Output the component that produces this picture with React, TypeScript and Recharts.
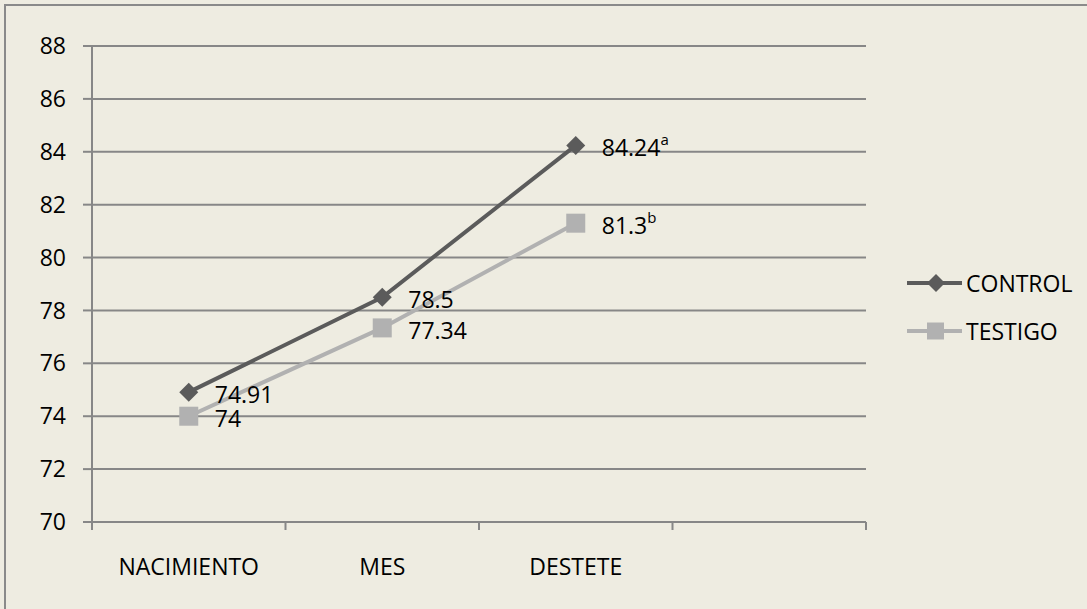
import React from "react";
import { LineChart, Line, XAxis, YAxis, CartesianGrid, LabelList } from "recharts";

const categories = ["NACIMIENTO", "MES", "DESTETE"];
const controlValues = [74.91, 78.5, 84.24];
const testigoValues = [74, 77.34, 81.3];
const controlSup = ["", "", "a"];
const testigoSup = ["", "", "b"];
const yTicks = [70, 72, 74, 76, 78, 80, 82, 84, 86, 88];
const slotCount = 4;
const xTicks = [0, 0.5, 1, 1.5, 2, 2.5, 3, 3.5, 4];

const CONTROL_COLOR = "#5B5B5B";
const TESTIGO_COLOR = "#B1B1B1";
const GRID_COLOR = "#878787";
const BG = "#EEECE1";
const FONT = "'Open Sans', sans-serif";

const data = categories.map((c, i) => ({
  x: i + 0.5,
  name: c,
  control: controlValues[i],
  testigo: testigoValues[i],
}));

const XTick = (props: any) => {
  const { x, y, payload } = props;
  const v = payload.value;
  if (Number.isInteger(v)) {
    return <line x1={x} x2={x} y1={y} y2={y + 8} stroke={GRID_COLOR} strokeWidth={2} />;
  }
  const idx = Math.floor(v);
  const label = categories[idx] ?? "";
  return (
    <text x={x} y={y + 44} textAnchor="middle" dominantBaseline="central" fill="#000" fontFamily={FONT} fontSize={23}>
      {label}
    </text>
  );
};

const Diamond = (props: any) => {
  const { cx, cy } = props;
  if (cx == null || cy == null) return null;
  const r = 9.5;
  return (
    <polygon
      points={`${cx},${cy - r} ${cx + r},${cy} ${cx},${cy + r} ${cx - r},${cy}`}
      fill={CONTROL_COLOR}
    />
  );
};

const Square = (props: any) => {
  const { cx, cy } = props;
  if (cx == null || cy == null) return null;
  const s = 19;
  return <rect x={cx - s / 2} y={cy - s / 2} width={s} height={s} fill={TESTIGO_COLOR} />;
};

const makeLabel = (sups: string[]) => (props: any) => {
  const { x, y, value, index } = props;
  const sup = sups[index] || "";
  return (
    <text x={x + 26} y={y + 2} dominantBaseline="central" fill="#000" fontFamily={FONT} fontSize={23}>
      {String(value)}
      {sup ? (
        <tspan fontSize={15} dy={-8}>
          {sup}
        </tspan>
      ) : null}
    </text>
  );
};

const LegendItem = ({ color, shape, label }: { color: string; shape: string; label: string }) => (
  <div style={{ display: "flex", alignItems: "center", height: 48 }}>
    <svg width={58} height={24} style={{ display: "block" }}>
      <line x1={1} x2={56} y1={12} y2={12} stroke={color} strokeWidth={4} />
      {shape === "diamond" ? (
        <polygon points="30,3 39,12 30,21 21,12" fill={color} />
      ) : (
        <rect x={21} y={3.5} width={17} height={17} fill={color} />
      )}
    </svg>
    <span style={{ fontFamily: FONT, fontSize: 23, color: "#000", marginLeft: 2, lineHeight: "24px" }}>{label}</span>
  </div>
);

export default function App() {
  return (
    <div style={{ position: "absolute", left: 0, top: 0, width: 1087, height: 609, background: BG, overflow: "hidden" }}>
      <div
        style={{
          position: "absolute",
          left: 4,
          top: 4,
          width: 1200,
          height: 700,
          borderTop: "2px solid #8A8A8A",
          borderLeft: "2px solid #8A8A8A",
          boxSizing: "border-box",
        }}
      />
      <div style={{ position: "absolute", left: 0, top: 0 }}>
        <LineChart width={1087} height={609} data={data} margin={{ top: 46, right: 221, bottom: 0, left: 0 }}>
          <CartesianGrid vertical={false} stroke={GRID_COLOR} strokeWidth={2} />
          <XAxis
            dataKey="x"
            type="number"
            domain={[0, slotCount]}
            ticks={xTicks}
            interval={0}
            height={87}
            tickLine={false}
            tickSize={0}
            tickMargin={0}
            axisLine={{ stroke: GRID_COLOR, strokeWidth: 2 }}
            tick={<XTick />}
          />
          <YAxis
            type="number"
            domain={[70, 88]}
            ticks={yTicks}
            interval={0}
            width={92}
            tickSize={9}
            tickMargin={17}
            tickLine={{ stroke: GRID_COLOR, strokeWidth: 2 }}
            axisLine={{ stroke: GRID_COLOR, strokeWidth: 2 }}
            tick={{ fill: "#000", fontFamily: FONT, fontSize: 23 }}
          />
          <Line
            type="linear"
            dataKey="control"
            stroke={CONTROL_COLOR}
            strokeWidth={4}
            dot={<Diamond />}
            activeDot={false}
            isAnimationActive={false}
          >
            <LabelList dataKey="control" content={makeLabel(controlSup)} />
          </Line>
          <Line
            type="linear"
            dataKey="testigo"
            stroke={TESTIGO_COLOR}
            strokeWidth={4}
            dot={<Square />}
            activeDot={false}
            isAnimationActive={false}
          >
            <LabelList dataKey="testigo" content={makeLabel(testigoSup)} />
          </Line>
        </LineChart>
      </div>
      <div style={{ position: "absolute", left: 906, top: 259 }}>
        <LegendItem color={CONTROL_COLOR} shape="diamond" label="CONTROL" />
        <LegendItem color={TESTIGO_COLOR} shape="square" label="TESTIGO" />
      </div>
    </div>
  );
}
